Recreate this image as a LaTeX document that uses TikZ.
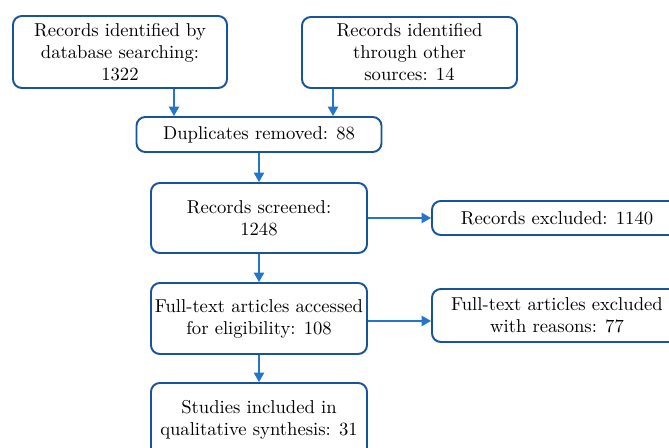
\documentclass[tikz,border=0pt]{standalone}
\usepackage{tikz}
\usetikzlibrary{arrows.meta,positioning,calc}
\definecolor{FrameBlue}{RGB}{24,84,156}
\definecolor{LinkBlue}{RGB}{36,118,204}
\tikzset{
  >=Latex,
  box/.style={draw=FrameBlue,line width=1.1pt,rounded corners=5pt,fill=white,align=center,text=black,font=\fontsize{10.6}{12.5}\selectfont,inner xsep=0pt,inner ysep=2pt},
  tallbox/.style={box,minimum width=4.32cm,minimum height=1.42cm},
  flatbox/.style={box,minimum width=5cm,minimum height=.68cm},
  link/.style={-{Triangle[length=1.9mm,width=2.1mm]},line width=.7pt,draw=LinkBlue}
}
\begin{document}
\begin{tikzpicture}[x=1cm,y=1cm]
  \clip (0,0) rectangle (13.38,8.96);
  \fill[white] (0,0) rectangle (13.38,8.96);
  \node[tallbox,minimum width=4.28cm,minimum height=1.44cm] (dbs) at (2.40,7.92) {Records identified by\\database searching:\\1322};
  \node[tallbox,minimum width=4.30cm] (other) at (8.19,7.91) {Records identified\\through other\\sources: 14};
  \node[box,minimum width=4.90cm,minimum height=.70cm] (dup) at (5.18,6.27) {Duplicates removed: 88};
  \node[tallbox,minimum height=1.40cm] (screen) at (5.18,4.60) {Records screened:\\1248};
  \node[flatbox] (excl) at (11.14,4.60) {Records excluded: 1140};
  \node[tallbox] (full) at (5.18,2.59) {Full-text articles accessed\\for eligibility: 108};
  \node[flatbox,minimum height=1.06cm] (fullexcl) at (11.14,2.65) {Full-text articles excluded\\with reasons: 77};
  \node[tallbox,minimum height=1.48cm] (studies) at (5.18,.56) {Studies included in\\qualitative synthesis: 31};
  % arrows
  \draw[link] ([xshift=1.08cm]dbs.south) -- ([xshift=1.08cm]dbs.south |- dup.north);
  \draw[link] ([xshift=-1.53cm]other.south) -- ([xshift=-1.53cm]other.south |- dup.north);
  \draw[link] (dup) -- (screen);
  \draw[link] (screen) -- (excl);
  \draw[link] (screen) -- (full);
  \draw[link] ([yshift=-.05cm]full.east) -- ([yshift=-.05cm]full.east -| fullexcl.west);
  \draw[link] (full) -- (studies);
\end{tikzpicture}
\end{document}
